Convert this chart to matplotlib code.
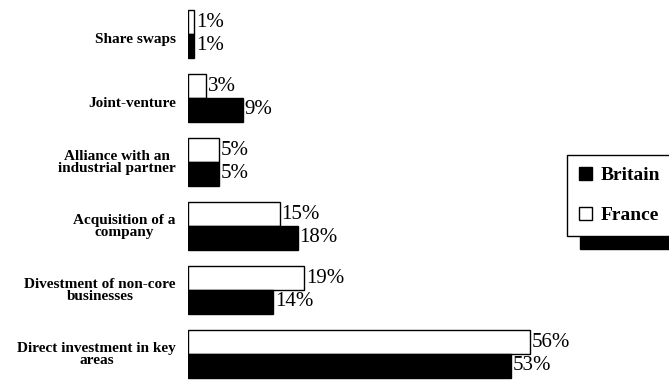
import matplotlib.pyplot as plt
import numpy as np
from matplotlib.patches import Patch

categories = ["Share swaps", "Joint-venture", "Alliance with an\nindustrial partner",
              "Acquisition of a\ncompany", "Divestment of non-core\nbusinesses",
              "Direct investment in key\nareas"]
france = [1, 3, 5, 15, 19, 56]
britain = [1, 9, 5, 18, 14, 53]

plt.rcParams['font.family'] = ['Liberation Serif', 'DejaVu Serif']

fig = plt.figure(figsize=(6.69, 3.80), dpi=100)
ax = fig.add_axes([188 / 669, 0, 481 / 669, 1])

y = np.arange(len(categories))
h = 0.37
ax.barh(y - h / 2, france, height=h, color='white', edgecolor='black', linewidth=1)
ax.barh(y + h / 2, britain, height=h, color='black', edgecolor='black', linewidth=1)

for i in range(len(categories)):
    ax.text(france[i] + 0.3, y[i] - h / 2, f"{france[i]}%", va='center', ha='left', fontsize=15)
    ax.text(britain[i] + 0.3, y[i] + h / 2, f"{britain[i]}%", va='center', ha='left', fontsize=15)
    # single-line labels sit a little lower in the original
    dy = 0.09 if "\n" not in categories[i] else 0.01
    ax.text(-2, y[i] + dy, categories[i], ha='right', va='center', multialignment='center',
            fontsize=11, fontweight='bold', linespacing=0.95)

ax.set_xlim(0, 481 / 6.1)
ax.set_ylim(5 + 26 / 64, -34 / 64)
ax.set_yticks([])
ax.set_xticks([])
for s in ax.spines.values():
    s.set_visible(False)

handles = [Patch(facecolor='black', edgecolor='black', label='Britain'),
           Patch(facecolor='white', edgecolor='black', label='France')]
leg = fig.legend(handles=handles, loc='upper left', bbox_to_anchor=(567 / 669, 1 - 155 / 380),
                 frameon=True, fancybox=False, edgecolor='black', borderaxespad=0,
                 prop={'weight': 'bold', 'size': 14}, handlelength=0.65, handleheight=0.65,
                 handletextpad=0.45, borderpad=0.62, labelspacing=1.15,
                 shadow={'color': 'black', 'ox': 9, 'oy': -9, 'alpha': 1})
leg.get_frame().set_linewidth(1)
leg.set_clip_on(False)

fig.savefig('out.png', dpi=100)
